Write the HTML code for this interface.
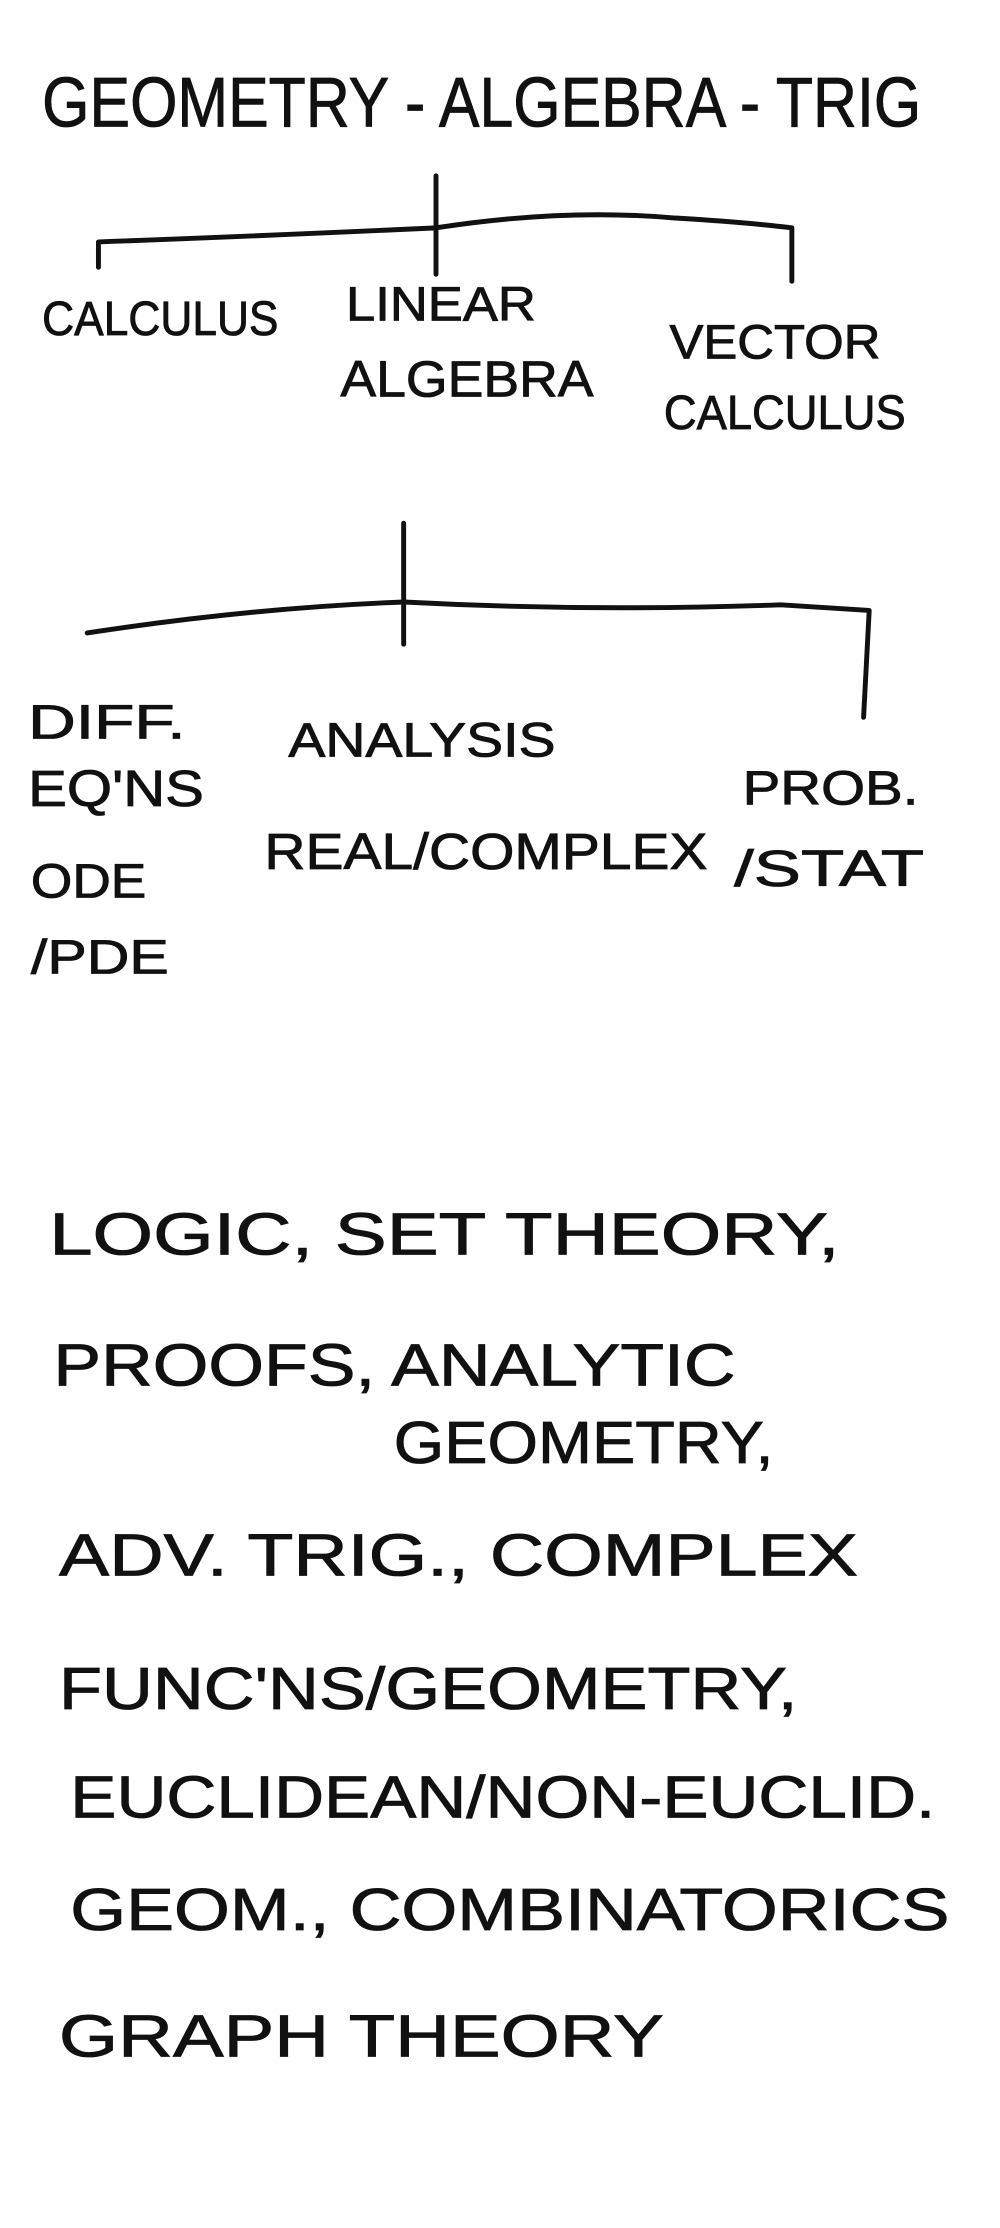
<!DOCTYPE html>
<html><head><meta charset="utf-8"><style>
html,body{margin:0;padding:0;background:#fff;}
svg{display:block;}
text{font-family:"Liberation Sans",sans-serif;fill:#111;stroke:#111;stroke-width:0.6;}
</style></head><body>
<svg width="1000" height="2228" viewBox="0 0 711 1584" preserveAspectRatio="none" xmlns="http://www.w3.org/2000/svg">
<rect width="711" height="1584" fill="#fff"/>
<g fill="none" stroke="#111" stroke-width="3.5" stroke-linecap="round" stroke-linejoin="round">
<path d="M310 125 L310 195"/>
<path d="M70 190 L70 172 Q180 168 310 162 Q400 148 480 155 Q530 158 563 162 L563 200"/>
<path d="M287 372 L287 458"/>
<path d="M62 450 Q180 432 287 428 Q420 435 555 430 L618 434 L614 510"/>
</g>
<g font-size="40">
<text x="30" y="90" textLength="625" lengthAdjust="spacingAndGlyphs" font-size="50">GEOMETRY - ALGEBRA - TRIG</text>
<text x="30" y="238" textLength="168" lengthAdjust="spacingAndGlyphs" font-size="34">CALCULUS</text>
<text x="246" y="228" textLength="135" lengthAdjust="spacingAndGlyphs" font-size="34">LINEAR</text>
<text x="242" y="282" textLength="180" lengthAdjust="spacingAndGlyphs" font-size="36">ALGEBRA</text>
<text x="476" y="255" textLength="150" lengthAdjust="spacingAndGlyphs" font-size="34">VECTOR</text>
<text x="472" y="305" textLength="172" lengthAdjust="spacingAndGlyphs" font-size="34">CALCULUS</text>
<text x="20" y="525" textLength="112" lengthAdjust="spacingAndGlyphs" font-size="34">DIFF.</text>
<text x="20" y="573" textLength="125" lengthAdjust="spacingAndGlyphs" font-size="36">EQ'NS</text>
<text x="22" y="638" textLength="82" lengthAdjust="spacingAndGlyphs" font-size="34">ODE</text>
<text x="22" y="692" textLength="98" lengthAdjust="spacingAndGlyphs" font-size="34">/PDE</text>
<text x="205" y="538" textLength="190" lengthAdjust="spacingAndGlyphs" font-size="34">ANALYSIS</text>
<text x="188" y="618" textLength="315" lengthAdjust="spacingAndGlyphs" font-size="36">REAL/COMPLEX</text>
<text x="528" y="572" textLength="125" lengthAdjust="spacingAndGlyphs" font-size="34">PROB.</text>
<text x="522" y="630" textLength="135" lengthAdjust="spacingAndGlyphs" font-size="36">/STAT</text>
<text x="35" y="892" textLength="562" lengthAdjust="spacingAndGlyphs" font-size="42">LOGIC, SET  THEORY,</text>
<text x="38" y="985" textLength="485" lengthAdjust="spacingAndGlyphs" font-size="42">PROOFS, ANALYTIC</text>
<text x="280" y="1040" textLength="270" lengthAdjust="spacingAndGlyphs" font-size="42">GEOMETRY,</text>
<text x="42" y="1120" textLength="568" lengthAdjust="spacingAndGlyphs" font-size="42">ADV. TRIG., COMPLEX</text>
<text x="42" y="1215" textLength="525" lengthAdjust="spacingAndGlyphs" font-size="42">FUNC'NS/GEOMETRY,</text>
<text x="50" y="1292" textLength="615" lengthAdjust="spacingAndGlyphs" font-size="42">EUCLIDEAN/NON-EUCLID.</text>
<text x="50" y="1372" textLength="625" lengthAdjust="spacingAndGlyphs" font-size="42">GEOM., COMBINATORICS</text>
<text x="42" y="1462" textLength="430" lengthAdjust="spacingAndGlyphs" font-size="42">GRAPH  THEORY</text>
</g>
</svg>
</body></html>
